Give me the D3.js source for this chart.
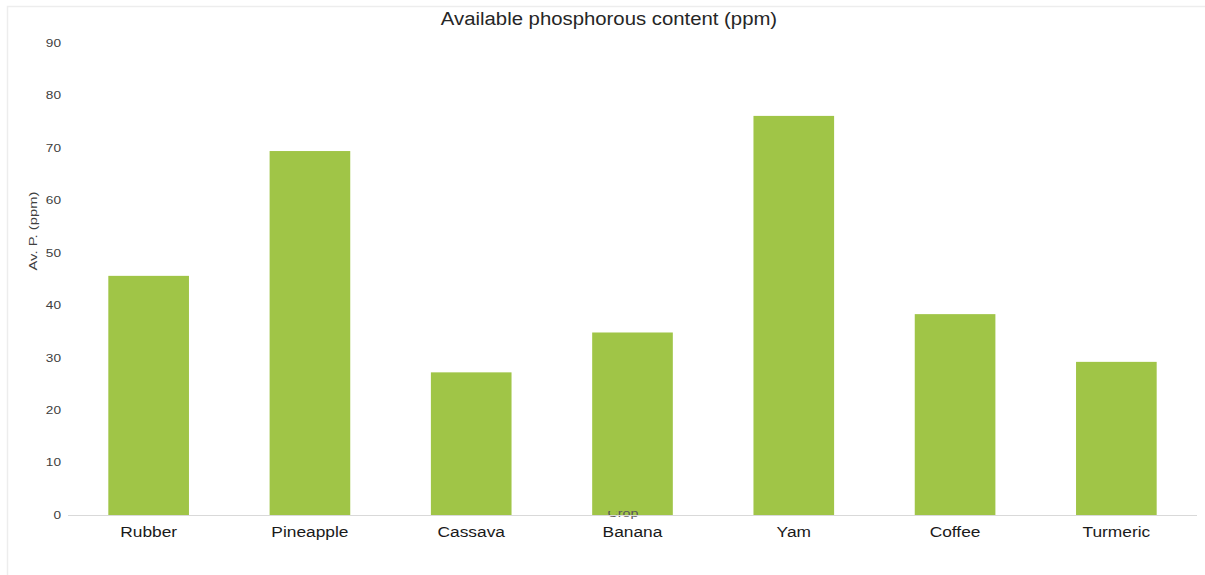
<!DOCTYPE html>
<html>
<head>
<meta charset="utf-8">
<script src="https://cdn.jsdelivr.net/npm/d3@7"></script>
<style>
  html, body { margin: 0; padding: 0; background: #fff; }
  svg { display: block; }
</style>
</head>
<body>
<svg id="chart" width="1205" height="575"></svg>
<script>
// Available phosphorous by crop
const crops = ["Rubber", "Pineapple", "Cassava", "Banana", "Yam", "Coffee", "Turmeric"];
const phosphorus = [45.6, 69.4, 27.2, 34.8, 76.1, 38.3, 29.2];
const yTicks = [0, 10, 20, 30, 40, 50, 60, 70, 80, 90];

const svg = d3.select("#chart");
const W = 1205, H = 575;
const margin = { left: 68, right: 8, top: 43, bottom: 60 };
const FONT = "Liberation Sans, Arial, sans-serif";

// chart area frame
svg.append("rect")
  .attr("x", 7.5).attr("y", 6.5)
  .attr("width", W + 10).attr("height", H + 10)
  .attr("fill", "#fff").attr("stroke", "#ededed").attr("stroke-width", 1.5);

const x = d3.scaleBand()
  .domain(crops)
  .range([margin.left, W - margin.right])
  .paddingInner(0.5).paddingOuter(0.25);

const y = d3.scaleLinear()
  .domain([0, 90])
  .range([H - margin.bottom, margin.top]);

// title (glyphs drawn slightly wide)
svg.append("text")
  .attr("transform", "translate(609,25) scale(1.13,1)")
  .attr("text-anchor", "middle")
  .attr("font-family", FONT)
  .attr("font-size", 18)
  .attr("fill", "#262626")
  .text("Available phosphorous content (ppm)");

// y axis (labels only)
const yAxis = svg.append("g")
  .attr("transform", `translate(61,0)`)
  .call(d3.axisLeft(y).tickValues(yTicks).tickSize(0).tickPadding(0));
yAxis.select(".domain").remove();
yAxis.selectAll("text")
  .attr("transform", "scale(1.3,1)")
  .attr("font-family", FONT)
  .attr("font-size", 10.5)
  .attr("fill", "#404040");

// y axis title
svg.append("text")
  .attr("transform", `translate(37, 231) rotate(-90) scale(1.35,1)`)
  .attr("text-anchor", "middle")
  .attr("font-family", FONT)
  .attr("font-size", 11)
  .attr("fill", "#404040")
  .text("Av. P. (ppm)");

// bars
svg.append("g")
  .selectAll("rect")
  .data(crops)
  .join("rect")
  .attr("x", d => x(d))
  .attr("width", x.bandwidth())
  .attr("y", (d, i) => y(phosphorus[i]))
  .attr("height", (d, i) => y(0) - y(phosphorus[i]))
  .attr("fill", "#a0c547");

// x axis title, only its lower part shows beneath the bars
svg.append("clipPath").attr("id", "crop-clip")
  .append("rect").attr("x", 0).attr("y", 511).attr("width", W).attr("height", 20);
svg.append("g")
  .attr("clip-path", "url(#crop-clip)")
  .append("text")
  .attr("transform", "translate(623,517) scale(1.3,1)")
  .attr("text-anchor", "middle")
  .attr("font-family", FONT)
  .attr("font-size", 11)
  .attr("fill", "#595959")
  .text("Crop");

// x axis
const xAxis = svg.append("g")
  .attr("transform", `translate(0,${y(0)})`)
  .call(d3.axisBottom(x).tickSize(0).tickPadding(11).tickSizeOuter(0));
xAxis.select(".domain")
  .attr("stroke", "#d9d9d9").attr("stroke-width", 1)
  .attr("d", `M${margin.left},0.5H${W - margin.right}`);
xAxis.selectAll("text")
  .attr("transform", "scale(1.12,1)")
  .attr("font-family", FONT)
  .attr("font-size", 15.5)
  .attr("fill", "#1a1a1a");
</script>
</body>
</html>
